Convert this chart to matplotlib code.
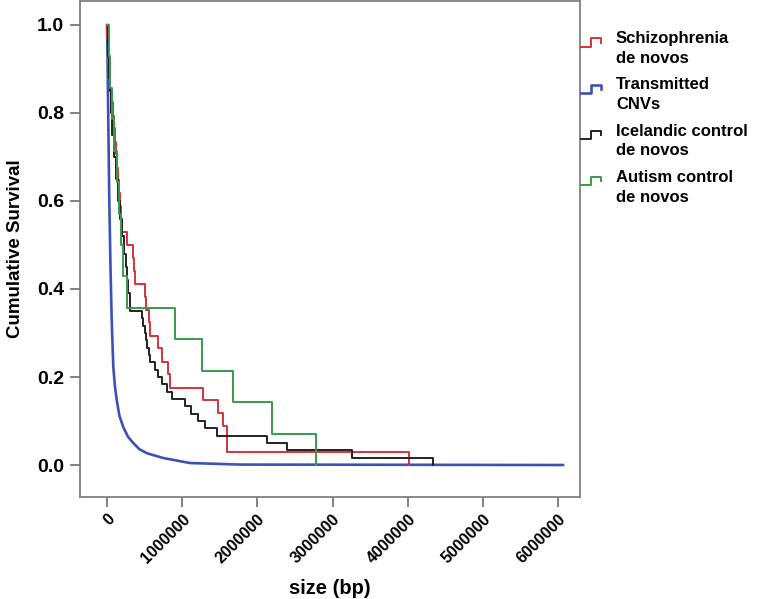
import numpy as np
import matplotlib.pyplot as plt
from matplotlib.legend_handler import HandlerBase
from matplotlib.lines import Line2D

plt.rcParams['font.family'] = ['Liberation Sans', 'DejaVu Sans']
plt.rcParams['font.weight'] = 'bold'

# Kaplan-Meier style survival of CNV sizes (bp)
schizo_size = [0, 6600, 13300, 19900, 33200, 46500, 59800, 79800, 93100, 106400,
               126300, 139600, 152900, 166200, 179500, 192800, 206100, 266000,
               345700, 359000, 372300, 505300, 518600, 565200, 571800, 682200,
               727400, 815200, 837800, 1280600, 1480100, 1546500, 1595700,
               1602400, 4016000]
schizo_surv = [1.0, 0.971, 0.941, 0.912, 0.882, 0.853, 0.824, 0.794, 0.765, 0.735,
               0.706, 0.676, 0.647, 0.618, 0.588, 0.559, 0.529, 0.500, 0.471,
               0.441, 0.412, 0.382, 0.353, 0.324, 0.294, 0.265, 0.235, 0.206,
               0.176, 0.147, 0.118, 0.088, 0.059, 0.029, 0.0]

transmitted_size = [0, 6650, 16000, 30600, 46500, 62500, 83800, 105000, 129000,
                    165000, 216800, 280000, 349700, 430000, 528000, 744700,
                    1103700, 1768600, 6063800]
transmitted_surv = [1.0, 0.93, 0.80, 0.60, 0.45, 0.33, 0.223, 0.18, 0.148,
                    0.112, 0.086, 0.064, 0.050, 0.036, 0.027, 0.016, 0.0045,
                    0.001, 0.0]

iceland_size = [0, 13300, 26600, 39900, 53200, 73100, 93100, 119700, 146300,
                172900, 199500, 226100, 252700, 266000, 285900, 305900, 469400,
                485400, 505300, 518600, 531900, 558500, 578500, 638300, 678200,
                731400, 797900, 860400, 1037200, 1117000, 1210100, 1303200,
                1458800, 2123700, 2389600, 3254000, 4335100]
iceland_surv = [1.0, 0.93, 0.88, 0.85, 0.80, 0.75, 0.70, 0.65, 0.60, 0.56, 0.52,
                0.48, 0.45, 0.42, 0.39, 0.35, 0.333, 0.317, 0.300, 0.283, 0.267,
                0.250, 0.233, 0.217, 0.200, 0.183, 0.167, 0.150, 0.133, 0.117,
                0.100, 0.083, 0.067, 0.050, 0.033, 0.017, 0.0]

autism_size = [0, 20000, 40000, 66000, 93000, 133000, 160000, 186000, 213000,
               266000, 904000, 1263000, 1676000, 2194000, 2779000]
autism_surv = [1.0, 0.929, 0.857, 0.786, 0.714, 0.643, 0.571, 0.500, 0.429,
               0.357, 0.286, 0.214, 0.143, 0.071, 0.0]

labels = ['Schizophrenia\nde novos', 'Transmitted\nCNVs',
          'Icelandic control\nde novos', 'Autism control\nde novos']
colors = ['#d6323c', '#3b52b4', '#222222', '#3a9a4a']
x_ticks = [0, 1000000, 2000000, 3000000, 4000000, 5000000, 6000000]
y_ticks = [0.0, 0.2, 0.4, 0.6, 0.8, 1.0]


class StepHandler(HandlerBase):
    # small step glyph like R's survival legend
    def create_artists(self, legend, orig_handle, xdescent, ydescent,
                       width, height, fontsize, trans):
        cy = height / 2 - ydescent + 0.4 * fontsize
        h = 0.5 * fontsize
        xs = np.array([0, 0.45, 0.45, 0.92, 0.92]) * width - xdescent
        ys = cy + np.array([-0.5, -0.5, 0.5, 0.5, 0.0]) * h
        line = Line2D(xs, ys, color=orig_handle.get_color(),
                      lw=orig_handle.get_linewidth())
        line.set_transform(trans)
        return [line]


fig = plt.figure(figsize=(7.83, 5.99), dpi=100)
ax = fig.add_axes([80 / 783, 1 - 497 / 599, 500 / 783, 496 / 599])

handles = []
series = [(schizo_size, schizo_surv), (transmitted_size, transmitted_surv),
          (iceland_size, iceland_surv), (autism_size, autism_surv)]
for i, (sz, sv) in enumerate(series):
    if i == 1:
        ln, = ax.plot(sz, sv, color=colors[i], lw=1.9, zorder=2)
    else:
        ln, = ax.step(sz, sv, where='post', color=colors[i], lw=1.4, zorder=3)
    handles.append(ln)

ax.set_xlim(-359000, 6290000)
ax.set_ylim(-0.0727, 1.0545)
ax.set_xticks(x_ticks)
ax.set_xticklabels([str(v) for v in x_ticks], rotation=45, ha='right',
                   va='top', rotation_mode='anchor', fontsize=11.5)
ax.set_yticks(y_ticks)
ax.set_yticklabels(['%.1f' % v for v in y_ticks], fontsize=14)
ax.tick_params(axis='both', direction='out', length=7.5, width=1.3,
               color='#777777')
ax.tick_params(axis='x', pad=3)
ax.tick_params(axis='y', pad=4)
for s in ax.spines.values():
    s.set_color('#808080')
    s.set_linewidth(1.3)

ax.set_xlabel('size (bp)', fontsize=14.5, fontweight='bold', labelpad=9)
ax.set_ylabel('Cumulative Survival', fontsize=13.5, fontweight='bold',
              labelpad=9)

leg = ax.legend(handles, labels, loc='upper left',
                bbox_to_anchor=(581 / 783, 1 - 31 / 599),
                bbox_transform=fig.transFigure, frameon=False, fontsize=12,
                handlelength=1.3, handletextpad=0.8, handleheight=2.0,
                labelspacing=0.68, borderaxespad=0, borderpad=0,
                handler_map={Line2D: StepHandler()})
for t in leg.get_texts():
    t.set_linespacing(1.41)

fig.savefig('out.png', dpi=100)
